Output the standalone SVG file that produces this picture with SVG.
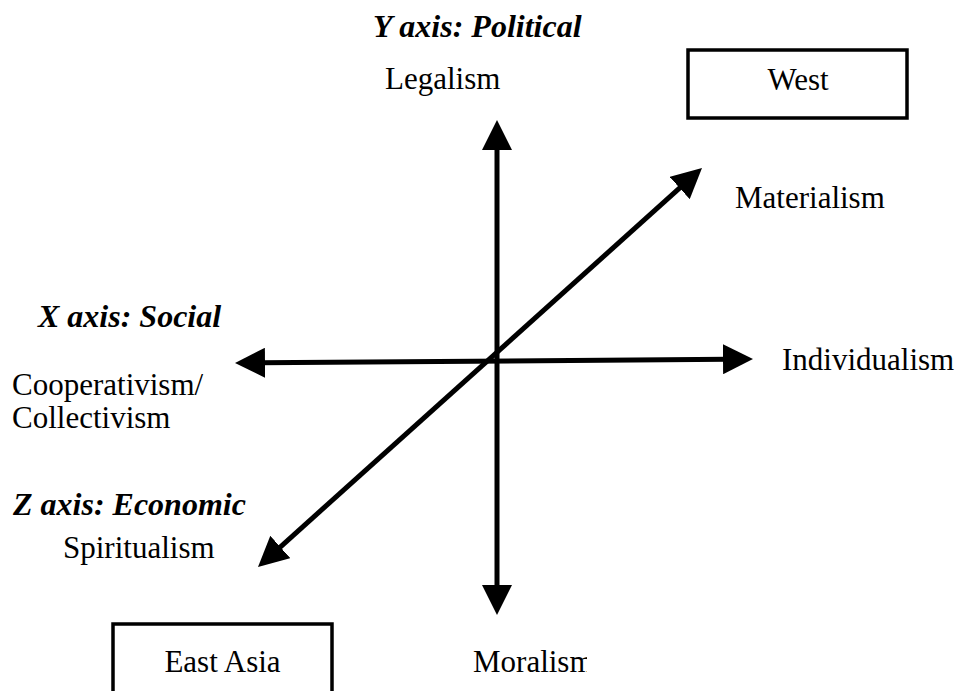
<svg xmlns="http://www.w3.org/2000/svg" width="962" height="691" viewBox="0 0 962 691">
<style>
text{font-family:"Liberation Serif","Times New Roman","DejaVu Serif",serif;font-size:31px;fill:#000}
.h{font-weight:bold;font-style:italic;font-size:32px}
.ax{stroke:#000;stroke-width:5;fill:none}
.box{fill:#fff;stroke:#000;stroke-width:3.5}
</style>
<defs>
<marker id="arr" viewBox="0 0 6 6" refX="1" refY="3" markerWidth="6" markerHeight="6" markerUnits="strokeWidth" orient="auto-start-reverse">
<path d="M0,0 L6,3 L0,6 z" fill="#000"/>
</marker>
<clipPath id="clipM"><rect x="0" y="0" width="587" height="691"/></clipPath>
</defs>
<rect width="962" height="691" fill="#fff"/>
<g id="connectors">
<line class="ax" x1="497" y1="145" x2="497" y2="590" marker-start="url(#arr)" marker-end="url(#arr)"/>
<line class="ax" x1="260" y1="362.8" x2="728" y2="359.2" marker-start="url(#arr)" marker-end="url(#arr)"/>
<line class="ax" x1="276.6" y1="550.3" x2="683.4" y2="184.7" marker-start="url(#arr)" marker-end="url(#arr)"/>
</g>
<g id="y-axis-title"><text class="h" x="373" y="37">Y axis: Political</text></g>
<g id="legalism"><text x="385" y="89">Legalism</text></g>
<g id="west"><rect class="box" x="688" y="50" width="219" height="68"/><text x="798" y="90" text-anchor="middle">West</text></g>
<g id="materialism"><text x="735" y="208">Materialism</text></g>
<g id="x-axis-title"><text class="h" x="38" y="327">X axis: Social</text></g>
<g id="individualism"><text x="782" y="370">Individualism</text></g>
<g id="cooperativism"><text x="12" y="395">Cooperativism/</text><text x="12" y="428">Collectivism</text></g>
<g id="z-axis-title"><text class="h" x="13" y="515">Z axis: Economic</text></g>
<g id="spiritualism"><text x="63" y="558">Spiritualism</text></g>
<g id="moralism"><text x="473" y="672" clip-path="url(#clipM)">Moralism</text></g>
<g id="east-asia"><rect class="box" x="113" y="624" width="219" height="80"/><text x="222.5" y="672" text-anchor="middle">East Asia</text></g>
</svg>
